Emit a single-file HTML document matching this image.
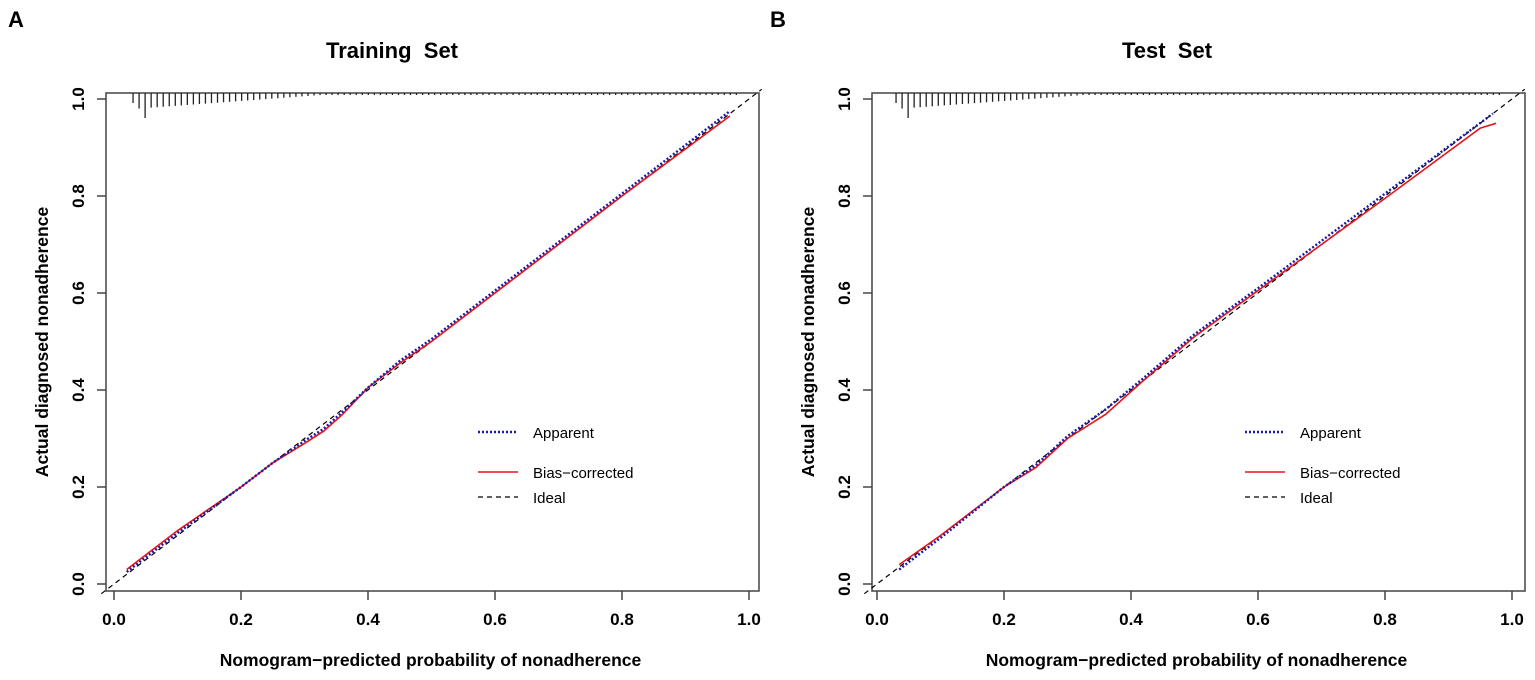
<!DOCTYPE html>
<html><head><meta charset="utf-8"><style>
body{margin:0;background:#fff;}
svg text{font-family:"Liberation Sans",Arial,sans-serif;}
</style></head><body>
<svg id="s" width="1535" height="675" xmlns="http://www.w3.org/2000/svg"></svg>
<script>
const s=document.getElementById('s');let h='';
function panel(L,bx0,bx1,x0,x1,title,tx,letter,lx,blue,red){
 const y0=584,y1=99,X=v=>x0+(x1-x0)*v,Y=v=>y0+(y1-y0)*v;
 h+=`<text x="${L}" y="27" font-size="22" font-weight="bold">${letter}</text>`;
 h+=`<text x="${tx}" y="58" font-size="22" font-weight="bold" text-anchor="middle">${title}</text>`;
 h+=`<rect x="${bx0}" y="93" width="${bx1-bx0}" height="498" fill="none" stroke="#444" stroke-width="1.5"/>`;
 for(let i=0;i<=5;i++){const v=i/5,xx=X(v),yy=Y(v);
  h+=`<line x1="${xx}" y1="591" x2="${xx}" y2="600" stroke="#444" stroke-width="1.5"/>`;
  h+=`<text x="${xx}" y="625" font-size="17" font-weight="bold" text-anchor="middle">${v.toFixed(1)}</text>`;
  h+=`<line x1="${bx0}" y1="${yy}" x2="${bx0-9}" y2="${yy}" stroke="#444" stroke-width="1.5"/>`;
  h+=`<text transform="translate(${bx0-22},${yy}) rotate(-90)" font-size="17" font-weight="bold" text-anchor="middle">${v.toFixed(1)}</text>`;}
 h+=`<text x="${(bx0+bx1)/2-2}" y="666" font-size="17.5" font-weight="bold" text-anchor="middle">Nomogram−predicted probability of nonadherence</text>`;
 h+=`<text transform="translate(${bx0-58},342) rotate(-90)" font-size="17.5" font-weight="bold" text-anchor="middle">Actual diagnosed nonadherence</text>`;
 let k=0;for(let v=0.03;v<0.98;v+=0.0095,k++){let len=k==2?25:Math.max(2,16-k*0.45);if(k==0)len=10;
  h+=`<line x1="${X(v)}" y1="93" x2="${X(v)}" y2="${93+len}" stroke="#222" stroke-width="1.3"/>`;}
 h+=`<line x1="${X(-0.02)}" y1="${Y(-0.02)}" x2="${X(1.02)}" y2="${Y(1.02)}" stroke="#000" stroke-width="1.2" stroke-dasharray="5,4"/>`;
 const p=a=>a.map((q,i)=>(i?'L':'M')+X(q[0]).toFixed(1)+','+Y(q[1]).toFixed(1)).join(' ');
 h+=`<path d="${p(red)}" fill="none" stroke="#e8141c" stroke-width="1.6"/>`;
 h+=`<path d="${p(blue)}" fill="none" stroke="#1a1aa8" stroke-width="2.4" stroke-dasharray="2,2"/>`;
 h+=`<line x1="${lx}" y1="432" x2="${lx+40}" y2="432" stroke="#1a1aa8" stroke-width="2.4" stroke-dasharray="2,2"/>`;
 h+=`<line x1="${lx}" y1="472" x2="${lx+40}" y2="472" stroke="#e8141c" stroke-width="1.6"/>`;
 h+=`<line x1="${lx}" y1="497" x2="${lx+40}" y2="497" stroke="#000" stroke-width="1.2" stroke-dasharray="5,4"/>`;
 [['Apparent',432],['Bias−corrected',472],['Ideal',497]].forEach(t=>h+=`<text x="${lx+55}" y="${t[1]+6}" font-size="15">${t[0]}</text>`);
}
const A=[[0.02,0.03],[0.1,0.11],[0.2,0.2],[0.25,0.25],[0.3,0.29],[0.33,0.315],[0.36,0.35],[0.4,0.405],[0.45,0.455],[0.5,0.5],[0.6,0.6],[0.8,0.8],[0.97,0.965]];
const Ab=[[0.02,0.025],[0.1,0.105],[0.2,0.2],[0.25,0.25],[0.3,0.295],[0.33,0.32],[0.36,0.355],[0.4,0.405],[0.45,0.46],[0.5,0.505],[0.6,0.605],[0.8,0.805],[0.97,0.975]];
const B=[[0.035,0.04],[0.1,0.1],[0.2,0.2],[0.25,0.24],[0.3,0.3],[0.36,0.35],[0.42,0.42],[0.5,0.51],[0.6,0.605],[0.8,0.795],[0.95,0.94],[0.975,0.95]];
const Bb=[[0.035,0.03],[0.1,0.095],[0.2,0.2],[0.25,0.245],[0.3,0.305],[0.36,0.36],[0.42,0.425],[0.5,0.515],[0.6,0.61],[0.8,0.805],[0.97,0.97]];
panel(8,106,759,114,749,'Training\u00a0\u00a0Set',392,'A',478,Ab,A);
panel(770,872,1525,877,1512,'Test\u00a0\u00a0Set',1167,'B',1245,Bb,B);
s.innerHTML=h;
</script>
</body></html>
